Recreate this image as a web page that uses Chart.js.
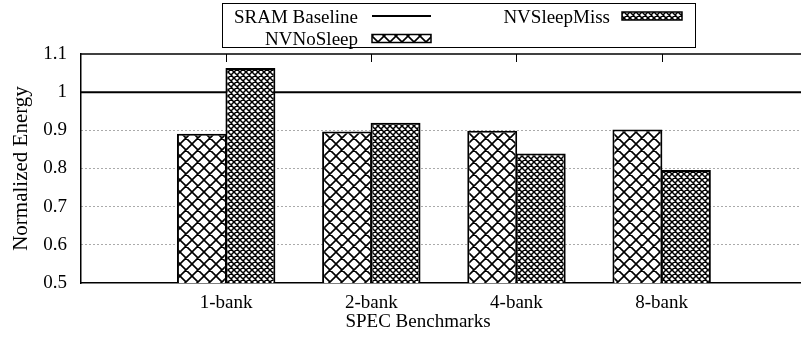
<!DOCTYPE html>
<html>
<head>
<meta charset="utf-8">
<script src="https://cdn.jsdelivr.net/npm/chart.js@4/dist/chart.umd.min.js"></script>
<style>
  html, body { margin: 0; padding: 0; background: #ffffff; }
  #wrap { width: 801px; height: 341px; }
</style>
</head>
<body>
<div id="wrap"><canvas id="chart" width="801" height="341"></canvas></div>
<script>
// Normalized energy per bank configuration (SRAM = 1.0)
const categories = ['1-bank', '2-bank', '4-bank', '8-bank'];
const seriesNames = ['SRAM Baseline', 'NVNoSleep', 'NVSleepMiss'];
const baselineValue = 1.0;
const nvNoSleep = [0.891, 0.897, 0.899, 0.902];
const nvSleepMiss = [1.063, 0.920, 0.839, 0.796];
const yTickValues = [0.5, 0.6, 0.7, 0.8, 0.9, 1, 1.1];
const xTitle = 'SPEC Benchmarks';
const yTitle = 'Normalized Energy';

const FONT = 'Liberation Serif, Times New Roman, serif';
const FONT_SIZE = 19;

// Gnuplot-style crosshatch fills
function hatch(period, width) {
  const c = document.createElement('canvas');
  c.width = period; c.height = period;
  const g = c.getContext('2d');
  g.fillStyle = '#ffffff';
  g.fillRect(0, 0, period, period);
  g.strokeStyle = '#000000';
  g.lineWidth = width;
  g.beginPath();
  for (const o of [-period, 0, period]) {
    g.moveTo(o - 1, -1); g.lineTo(o + period + 1, period + 1);
    g.moveTo(o + period + 1, -1); g.lineTo(o - 1, period + 1);
  }
  g.stroke();
  return g.createPattern(c, 'repeat');
}
const sparseHatch = hatch(12, 1.6);
const denseHatch = hatch(6, 1.5);

const toPoints = arr => arr.map((v, i) => ({ x: i, y: v }));
const xMin = -1, xMax = 3.96;

// Frame pieces gnuplot draws: top border, mirrored x tick marks, x label
const framePlugin = {
  id: 'frame',
  afterDatasetsDraw(chart) {
    const { ctx, chartArea: a, scales } = chart;
    ctx.save();
    ctx.strokeStyle = '#000';
    ctx.lineWidth = 1.5;
    ctx.beginPath();
    ctx.moveTo(a.left, a.top); ctx.lineTo(a.right, a.top);
    ctx.stroke();
    ctx.lineWidth = 1;
    ctx.beginPath();
    categories.forEach((_, i) => {
      const x = Math.round(scales.x.getPixelForValue(i)) + 0.5;
      ctx.moveTo(x, a.top); ctx.lineTo(x, a.top + 8);
    });
    ctx.stroke();
    ctx.font = FONT_SIZE + 'px ' + FONT;
    ctx.fillStyle = '#000';
    ctx.textAlign = 'center';
    ctx.textBaseline = 'alphabetic';
    ctx.fillText(xTitle, 418, 327);
    ctx.restore();
  }
};

// Boxed two-column key, text right-aligned before each sample
const keyPlugin = {
  id: 'key',
  afterDraw(chart) {
    const { ctx } = chart;
    const ds = chart.data.datasets;
    ctx.save();
    ctx.strokeStyle = '#000';
    ctx.lineWidth = 1;
    ctx.strokeRect(222.5, 3.5, 473, 44);
    ctx.font = FONT_SIZE + 'px ' + FONT;
    ctx.fillStyle = '#000';
    ctx.textAlign = 'right';
    ctx.textBaseline = 'alphabetic';
    const slots = [
      { textX: 358, sx: 372, sw: 59, cy: 16, by: 23 },
      { textX: 358, sx: 372, sw: 59, cy: 38.5, by: 45 },
      { textX: 610, sx: 622, sw: 60, cy: 16, by: 23 }
    ];
    ds.forEach((d, i) => {
      const s = slots[i];
      ctx.fillText(d.label, s.textX, s.by);
      if (d.type === 'line') {
        ctx.lineWidth = 2;
        ctx.beginPath();
        ctx.moveTo(s.sx, s.cy); ctx.lineTo(s.sx + s.sw, s.cy);
        ctx.stroke();
      } else {
        ctx.fillStyle = d.backgroundColor;
        ctx.fillRect(s.sx, s.cy - 4, s.sw, 8);
        ctx.lineWidth = 1.5;
        ctx.strokeRect(s.sx, s.cy - 4, s.sw, 8);
        ctx.fillStyle = '#000';
      }
    });
    ctx.restore();
  }
};

new Chart(document.getElementById('chart'), {
  type: 'bar',
  data: {
    datasets: [
      {
        type: 'line',
        label: seriesNames[0],
        data: [{ x: xMin, y: baselineValue }, { x: xMax, y: baselineValue }],
        borderColor: '#000',
        borderWidth: 2,
        pointRadius: 0,
        order: 2
      },
      {
        label: seriesNames[1],
        data: toPoints(nvNoSleep),
        backgroundColor: sparseHatch,
        borderColor: '#000',
        borderWidth: 2,
        borderSkipped: false,
        order: 1
      },
      {
        label: seriesNames[2],
        data: toPoints(nvSleepMiss),
        backgroundColor: denseHatch,
        borderColor: '#000',
        borderWidth: 2,
        borderSkipped: false,
        order: 1
      }
    ]
  },
  options: {
    responsive: false,
    animation: false,
    devicePixelRatio: 1,
    categoryPercentage: 0.668,
    barPercentage: 1.03,
    layout: { padding: { top: 54, right: 0, left: 0, bottom: 0 } },
    plugins: {
      legend: { display: false },
      tooltip: { enabled: false },
      title: { display: false }
    },
    scales: {
      x: {
        type: 'linear',
        offset: false,
        min: xMin,
        max: xMax,
        afterBuildTicks(scale) {
          scale.ticks = categories.map((_, i) => ({ value: i }));
        },
        afterFit(scale) { scale.height = 58; },
        ticks: {
          callback: v => categories[v] ?? '',
          color: '#000',
          font: { family: FONT, size: FONT_SIZE },
          padding: 9,
          maxRotation: 0,
          autoSkip: false
        },
        grid: { display: false, drawTicks: false, offset: false },
        border: { display: true, color: '#000', width: 1.5 }
      },
      y: {
        min: 0.5,
        max: 1.1,
        afterBuildTicks(scale) {
          scale.ticks = yTickValues.map(v => ({ value: v }));
        },
        afterFit(scale) { scale.width = 81; },
        ticks: {
          callback: v => String(Math.round(v * 10) / 10),
          color: '#000',
          font: { family: FONT, size: FONT_SIZE },
          padding: 14
        },
        grid: {
          drawTicks: false,
          lineWidth: 1,
          color: ctx => {
            const v = ctx.tick ? Math.round(ctx.tick.value * 10) / 10 : 0;
            return (v > 0.5 && v < 1) ? '#555' : 'rgba(0,0,0,0)';
          }
        },
        border: { display: true, color: '#000', width: 1.5, dash: [1, 3] },
        title: {
          display: true,
          text: yTitle,
          color: '#000',
          font: { family: FONT, size: 21 },
          padding: { top: 9, bottom: 0 }
        }
      }
    }
  },
  plugins: [framePlugin, keyPlugin]
});
</script>
</body>
</html>
